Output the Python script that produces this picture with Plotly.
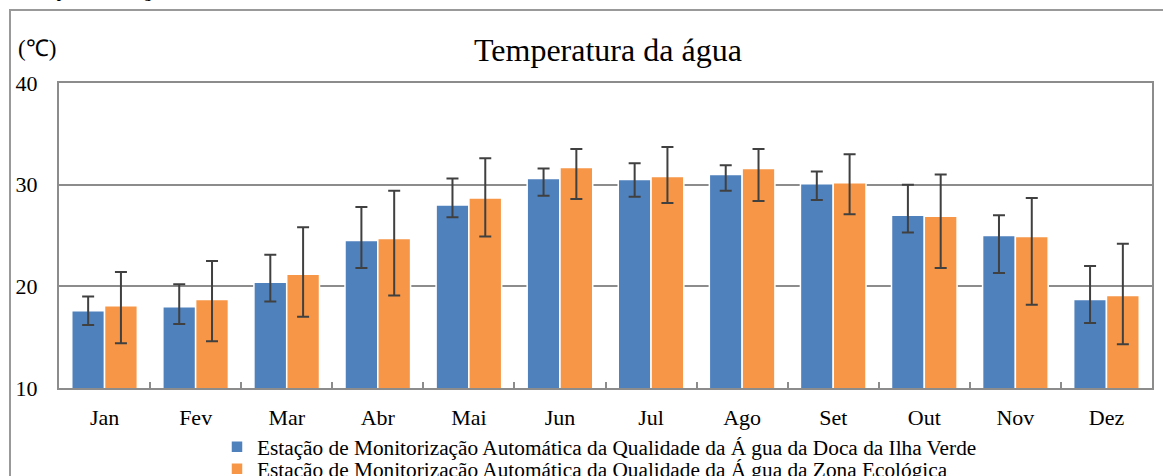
import plotly.graph_objects as go

months = ["Jan", "Fev", "Mar", "Abr", "Mai", "Jun", "Jul", "Ago", "Set", "Out", "Nov", "Dez"]

# Estação da Doca da Ilha Verde (blue)
verde_mean = [17.6, 18.0, 20.4, 24.5, 28.0, 30.6, 30.5, 31.0, 30.1, 27.0, 25.0, 18.7]
verde_max = [19.0, 20.2, 23.1, 27.8, 30.6, 31.6, 32.1, 31.9, 31.3, 30.0, 27.0, 22.0]
verde_min = [16.2, 16.3, 18.5, 21.8, 26.8, 28.9, 28.8, 29.4, 28.5, 25.3, 21.3, 16.4]

# Estação da Zona Ecológica (orange)
eco_mean = [18.1, 18.7, 21.2, 24.7, 28.7, 31.7, 30.8, 31.6, 30.2, 26.9, 24.9, 19.1]
eco_max = [21.4, 22.5, 25.8, 29.4, 32.6, 33.5, 33.7, 33.5, 33.0, 31.0, 28.7, 24.2]
eco_min = [14.4, 14.6, 17.0, 19.1, 24.9, 28.6, 28.2, 28.4, 27.1, 21.8, 18.2, 14.3]

name_verde = "Estação de Monitorização Automática da Qualidade da Á gua da Doca da Ilha Verde"
name_eco = "Estação de Monitorização Automática da Qualidade da Á gua da Zona Ecológica"

W, H = 1163, 476
L, R, T, B = 59, 11, 83, 88
PW, PH = W - L - R, H - T - B

def px(X):
    return (X - L) / PW

def py(Y):
    return (H - B - Y) / PH

FONT = "Liberation Serif"
GRAY = "#8c8c8c"
ERR = "#404040"

def err(mean, hi, lo):
    return dict(
        type="data",
        symmetric=False,
        array=[h - m for h, m in zip(hi, mean)],
        arrayminus=[m - l for m, l in zip(mean, lo)],
        color=ERR,
        thickness=2,
        width=6,
    )

fig = go.Figure()
fig.add_trace(go.Bar(
    x=months, y=verde_mean, name=name_verde, legend="legend",
    marker=dict(color="#4F81BD", line=dict(color="white", width=1.5)),
    error_y=err(verde_mean, verde_max, verde_min),
))
fig.add_trace(go.Bar(
    x=months, y=eco_mean, name=name_eco, legend="legend2",
    marker=dict(color="#F79646", line=dict(color="white", width=1.5)),
    error_y=err(eco_mean, eco_max, eco_min),
))

leg_common = dict(
    xanchor="left", yanchor="middle", orientation="v",
    font=dict(size=21.3, family=FONT, color="black"),
    bgcolor="rgba(0,0,0,0)", itemwidth=30, borderwidth=0,
)

fig.update_layout(
    width=W, height=H,
    margin=dict(l=L, r=R, t=T, b=B, pad=0, autoexpand=False),
    paper_bgcolor="white", plot_bgcolor="white",
    font=dict(family=FONT, size=22, color="black"),
    barmode="group", bargap=0.28, bargroupgap=0.0,
    showlegend=True,
    legend=dict(x=px(217), y=py(447), **leg_common),
    legend2=dict(x=px(217), y=py(469), **leg_common),
    xaxis=dict(
        showline=True, linecolor=GRAY, linewidth=2, mirror=True,
        ticks="inside", tickson="boundaries", ticklen=6, tickcolor=GRAY, tickwidth=1.5,
        showgrid=False, ticklabelstandoff=9,
        tickfont=dict(size=22, family=FONT),
    ),
    yaxis=dict(
        range=[10, 40], dtick=10, tick0=10,
        showline=True, linecolor=GRAY, linewidth=2, mirror=True,
        showgrid=True, gridcolor=GRAY, gridwidth=2,
        ticks="", ticklabelstandoff=15,
        tickfont=dict(size=22, family=FONT),
        zeroline=False,
    ),
    annotations=[
        dict(text="Temperatura da água", x=px(608), y=py(50), xref="paper", yref="paper",
             xanchor="center", yanchor="middle", showarrow=False,
             font=dict(size=32, family=FONT)),
        dict(text="(℃)", x=px(37), y=py(48), xref="paper", yref="paper",
             xanchor="center", yanchor="middle", showarrow=False,
             font=dict(size=23, family=FONT)),
        dict(text="<b>Temperatura da água</b>", x=px(28), y=py(2.5), xref="paper", yref="paper",
             xanchor="left", yanchor="bottom", showarrow=False, borderpad=0,
             font=dict(size=15, family=FONT)),
    ],
    shapes=[
        dict(type="rect", xref="paper", yref="paper",
             x0=px(10), x1=px(1175), y0=py(10), y1=py(490),
             line=dict(color="#999999", width=2), fillcolor="rgba(0,0,0,0)", layer="below"),
    ],
)

fig.write_html(
    "out.html",
    config={"displayModeBar": False},
    post_script="document.body.style.margin='0';document.body.style.overflow='hidden';",
)
